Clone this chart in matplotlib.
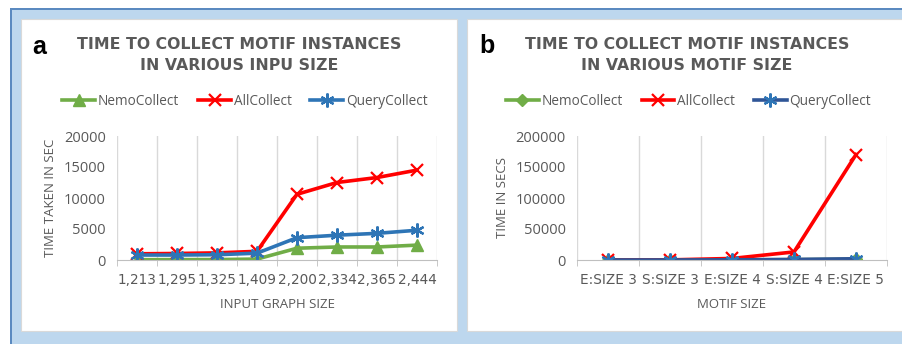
import matplotlib.pyplot as plt
import matplotlib.patches as mpatches
import numpy as np

# panel a data
input_sizes = ["1,213", "1,295", "1,325", "1,409", "2,200", "2,334", "2,365", "2,444"]
nemo_a = [50, 60, 70, 150, 1900, 2100, 2100, 2400]
all_a = [1000, 1050, 1150, 1400, 10600, 12500, 13300, 14500]
query_a = [800, 800, 850, 1100, 3600, 4000, 4300, 4800]

# panel b data
motif_sizes = ["E:SIZE 3", "S:SIZE 3", "E:SIZE 4", "S:SIZE 4", "E:SIZE 5"]
nemo_b = [20, 40, 150, 500, 1200]
all_b = [50, 200, 2500, 13000, 170000]
query_b = [30, 60, 300, 900, 2000]

GREEN = "#70ad47"
RED = "#ff0000"
BLUE = "#2e75b6"
DARKBLUE = "#2f5597"
GRAY = "#595959"
W, H = 903, 344

plt.rcParams['font.family'] = ['Open Sans', 'DejaVu Sans']

fig = plt.figure(figsize=(W / 100, H / 100), dpi=100)


def px(x0, y0, x1, y1):
    # pixel box (top-left origin) -> figure fraction rect
    return [x0 / W, 1 - y1 / H, (x1 - x0) / W, (y1 - y0) / H]


# background frame
fig.patches.append(mpatches.Rectangle((10 / W, 0), 1 - 10 / W, 1 - 9 / H, transform=fig.transFigure,
                                      facecolor="#bdd7ee", edgecolor="none", zorder=0))
fig.patches.append(mpatches.Rectangle((10 / W, 1 - 10 / H), 1 - 10 / W, 1.5 / H, transform=fig.transFigure,
                                      facecolor="#5b8ac0", edgecolor="none", zorder=1))
fig.patches.append(mpatches.Rectangle((10 / W, 0), 1.5 / W, 1 - 9 / H, transform=fig.transFigure,
                                      facecolor="#5b8ac0", edgecolor="none", zorder=1))
for x0, x1 in [(21, 457), (467, 903)]:
    r = px(x0, 19, x1, 331)
    fig.patches.append(mpatches.Rectangle((r[0], r[1]), r[2], r[3], transform=fig.transFigure,
                                          facecolor="white", edgecolor="#d9d9d9", lw=0.8, zorder=2))


def style_axis(ax, labels, ymax, ystep):
    n = len(labels)
    ax.set_xlim(-0.5, n - 0.5)
    ax.set_ylim(0, ymax)
    ax.set_yticks(np.arange(0, ymax + 1, ystep))
    ax.set_xticks(range(n))
    ax.set_xticklabels(labels, family="DejaVu Sans")
    ax.set_xticks(np.arange(-0.5, n, 1), minor=True)
    ax.grid(True, axis="x", which="minor", color="#d9d9d9", lw=1)
    ax.tick_params(axis="x", which="major", length=0, pad=9, labelsize=9.8, colors=GRAY)
    ax.tick_params(axis="x", which="minor", length=4, color="#bfbfbf")
    ax.tick_params(axis="y", length=0, labelsize=10.5, colors=GRAY, pad=8)
    for s in ["top", "right", "left"]:
        ax.spines[s].set_visible(False)
    ax.spines["bottom"].set_color("#bfbfbf")
    ax.set_facecolor("none")


# panel a
axa = fig.add_axes(px(117, 136, 437, 260), zorder=3)
x = np.arange(len(input_sizes))
axa.plot(x, nemo_a, color=GREEN, lw=2.6, marker="^", ms=8, label="NemoCollect")
axa.plot(x, all_a, color=RED, lw=2.6, marker="x", ms=9, mew=1.6, label="AllCollect")
axa.plot(x, query_a, color=BLUE, lw=2.6, marker=(6, 2, 0), ms=10, mew=1.6, label="QueryCollect")
style_axis(axa, input_sizes, 20000, 5000)
axa.set_ylabel("TIME TAKEN IN SEC", fontsize=9.5, color=GRAY, labelpad=5)
axa.set_xlabel("INPUT GRAPH SIZE", fontsize=9.5, color=GRAY, labelpad=8)
axa.legend(loc="center", bbox_to_anchor=(0.4, 1.28), ncol=3, frameon=False, fontsize=9.8,
           handlelength=2.4, columnspacing=1.4, handletextpad=0.2, labelcolor=GRAY)

# panel b
axb = fig.add_axes(px(577, 136, 887, 260), zorder=3)
x = np.arange(len(motif_sizes))
axb.plot(x, nemo_b, color=GREEN, lw=2.6, marker="D", ms=6, label="NemoCollect")
axb.plot(x, all_b, color=RED, lw=2.6, marker="x", ms=9, mew=1.6, label="AllCollect")
axb.plot(x, query_b, color=DARKBLUE, lw=2.6, marker=(6, 2, 0), ms=10, mew=1.6, mec=BLUE,
         label="QueryCollect")
style_axis(axb, motif_sizes, 200000, 50000)
axb.set_ylabel("TIME IN SECS", fontsize=9.5, color=GRAY, labelpad=5)
axb.set_xlabel("MOTIF SIZE", fontsize=9.5, color=GRAY, labelpad=8)
axb.legend(loc="center", bbox_to_anchor=(0.36, 1.28), ncol=3, frameon=False, fontsize=9.8,
           handlelength=2.4, columnspacing=1.4, handletextpad=0.2, labelcolor=GRAY)

# titles and panel letters
fig.text(239 / W, 1 - 55 / H, "TIME TO COLLECT MOTIF INSTANCES\nIN VARIOUS INPU SIZE", ha="center",
         va="center", fontsize=11.3, fontweight="bold", color=GRAY, linespacing=1.45, zorder=5,
         family="DejaVu Sans")
fig.text(687 / W, 1 - 55 / H, "TIME TO COLLECT MOTIF INSTANCES\nIN VARIOUS MOTIF SIZE", ha="center",
         va="center", fontsize=11.3, fontweight="bold", color=GRAY, linespacing=1.45, zorder=5,
         family="DejaVu Sans")
fig.text(39 / W, 1 - 47 / H, "a", ha="center", va="center", fontsize=18, fontweight="bold",
         family="Liberation Sans", zorder=5)
fig.text(487 / W, 1 - 46 / H, "b", ha="center", va="center", fontsize=18, fontweight="bold",
         family="Liberation Sans", zorder=5)

fig.savefig("out.png", dpi=100)
